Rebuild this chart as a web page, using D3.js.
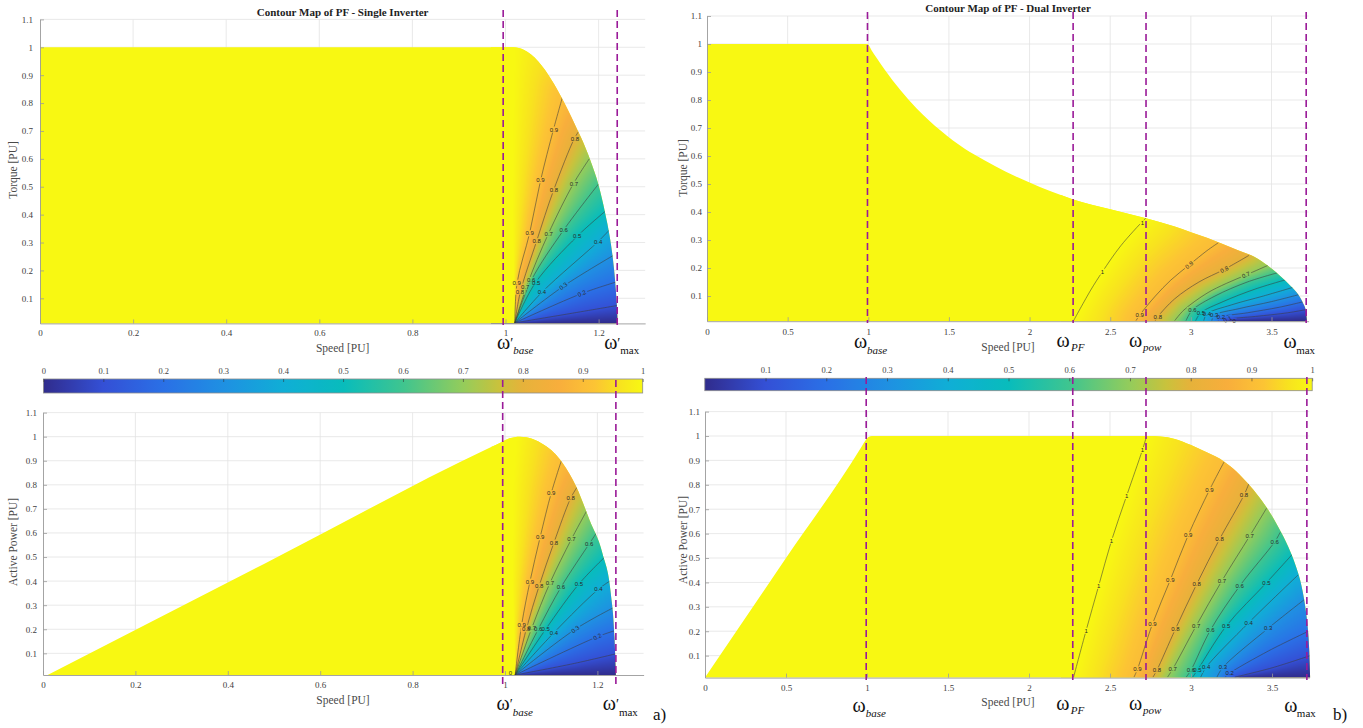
<!DOCTYPE html>
<html>
<head>
<meta charset="utf-8">
<title>Contour Map of PF</title>
<script src="https://cdn.jsdelivr.net/npm/d3@7/dist/d3.min.js"></script>
<style>
  html, body { margin: 0; padding: 0; background: #ffffff; }
  svg { display: block; }
</style>
</head>
<body>
<svg id="fig" width="1363" height="728"></svg>
<script>
// ---------------- tick values ----------------
const singleSpeedTicks = [0, 0.2, 0.4, 0.6, 0.8, 1, 1.2];
const dualSpeedTicks = [0, 0.5, 1, 1.5, 2, 2.5, 3, 3.5];
const puTicks = [0.1, 0.2, 0.3, 0.4, 0.5, 0.6, 0.7, 0.8, 0.9, 1, 1.1];
const colorbarTicksSingle = [0, 0.1, 0.2, 0.3, 0.4, 0.5, 0.6, 0.7, 0.8, 0.9, 1];
const colorbarTicksDual = [0.1, 0.2, 0.3, 0.4, 0.5, 0.6, 0.7, 0.8, 0.9, 1];

// ---------------- operating envelopes: [speed PU, value PU] ----------------
const singleTorqueEnvelope = [
  [0, 1.0], [0.5, 1.0], [1.017, 1.0], [1.04, 0.99], [1.07, 0.95], [1.1, 0.88], [1.121, 0.818],
  [1.15, 0.72], [1.168, 0.655], [1.182, 0.596], [1.2, 0.505], [1.214, 0.406], [1.224, 0.32],
  [1.231, 0.237], [1.237, 0.13], [1.24, 0.05], [1.241, 0.01]
];
const singlePowerEnvelope = [
  [0.01, 0.01], [0.5, 0.493], [0.97, 0.957], [0.99, 0.975], [1.01, 0.993], [1.032, 1.0],
  [1.06, 0.99], [1.085, 0.965], [1.105, 0.935], [1.125, 0.89], [1.154, 0.793], [1.183, 0.654],
  [1.211, 0.515], [1.229, 0.349], [1.237, 0.168], [1.24, 0.01]
];
const dualTorqueEnvelope = [
  [0, 1.0], [0.5, 1.0], [0.995, 1.0], [1.02, 0.978], [1.05, 0.952], [1.1, 0.91], [1.2, 0.835],
  [1.3, 0.77], [1.45, 0.69], [1.6, 0.625], [1.72, 0.585], [1.85, 0.545], [2.0, 0.505],
  [2.27, 0.445], [2.5, 0.41], [2.722, 0.378], [2.9, 0.348], [3.0, 0.328], [3.1, 0.308],
  [3.186, 0.288], [3.3, 0.262], [3.393, 0.24], [3.48, 0.207], [3.559, 0.169], [3.62, 0.135],
  [3.66, 0.11], [3.695, 0.075], [3.714, 0.045], [3.72, 0.01]
];
const dualPowerEnvelope = [
  [0, 0.01], [0.5, 0.5], [0.97, 0.96], [0.99, 0.982], [1.01, 0.996], [1.03, 1.0], [2.0, 1.0],
  [2.72, 1.0], [2.81, 0.998], [2.9, 0.988], [3.0, 0.963], [3.1, 0.932], [3.205, 0.895],
  [3.28, 0.855], [3.35, 0.806], [3.42, 0.75], [3.477, 0.697], [3.54, 0.625], [3.6, 0.546],
  [3.645, 0.47], [3.683, 0.382], [3.705, 0.3], [3.72, 0.218], [3.73, 0.12], [3.735, 0.01]
];

// ---------------- PF iso-lines (edge = limit of the field, not stroked) ----------------
const singleTorqueIsolines = [
  { level: 1, edge: true, pts: [[1.02, 0.012], [1.015, 0.4], [1.017, 0.8], [1.02, 1.0]] },
  { level: 0.9, pts: [[1.02, 0.012], [1.025, 0.156], [1.052, 0.335], [1.075, 0.52], [1.103, 0.705], [1.123, 0.825]] },
  { level: 0.8, pts: [[1.02, 0.012], [1.032, 0.123], [1.067, 0.306], [1.103, 0.486], [1.148, 0.673], [1.16, 0.705]] },
  { level: 0.7, pts: [[1.02, 0.012], [1.047, 0.15], [1.092, 0.331], [1.146, 0.511], [1.18, 0.6]] },
  { level: 0.6, pts: [[1.02, 0.012], [1.055, 0.163], [1.125, 0.345], [1.2, 0.51]] },
  { level: 0.5, pts: [[1.02, 0.012], [1.064, 0.155], [1.155, 0.324], [1.22, 0.42]] },
  { level: 0.4, pts: [[1.02, 0.012], [1.079, 0.123], [1.198, 0.302], [1.226, 0.35]] },
  { level: 0.3, pts: [[1.02, 0.012], [1.125, 0.144], [1.236, 0.258]] },
  { level: 0.2, pts: [[1.02, 0.012], [1.165, 0.118], [1.241, 0.16]] },
  { level: 0.1, pts: [[1.02, 0.012], [1.138, 0.045], [1.243, 0.075]] },
  { level: 0, edge: true, pts: [[1.02, 0.011], [1.25, 0.011]] }
];
const singlePowerIsolines = [
  { level: 1, edge: true, pts: [[1.022, 0.01], [1.016, 0.4], [1.018, 0.8], [1.025, 1.0]] },
  { level: 0.9, pts: [[1.022, 0.01], [1.036, 0.218], [1.054, 0.398], [1.076, 0.582], [1.1, 0.765], [1.122, 0.9]] },
  { level: 0.8, pts: [[1.022, 0.01], [1.046, 0.2], [1.074, 0.381], [1.106, 0.56], [1.142, 0.744], [1.156, 0.79]] },
  { level: 0.7, pts: [[1.022, 0.01], [1.058, 0.205], [1.097, 0.391], [1.144, 0.575], [1.178, 0.696]] },
  { level: 0.6, pts: [[1.022, 0.01], [1.072, 0.2], [1.121, 0.374], [1.182, 0.554], [1.198, 0.6]] },
  { level: 0.5, pts: [[1.022, 0.01], [1.088, 0.2], [1.16, 0.388], [1.216, 0.5]] },
  { level: 0.4, pts: [[1.022, 0.01], [1.106, 0.186], [1.202, 0.366], [1.23, 0.404]] },
  { level: 0.3, pts: [[1.022, 0.01], [1.152, 0.2], [1.238, 0.293]] },
  { level: 0.2, pts: [[1.022, 0.01], [1.2, 0.169], [1.241, 0.196]] },
  { level: 0.1, pts: [[1.022, 0.01], [1.15, 0.058], [1.242, 0.099]] },
  { level: 0, edge: true, pts: [[1.022, 0.009], [1.26, 0.009]] }
];
const dualTorqueIsolines = [
  { level: 1, pts: [[2.273, 0.012], [2.379, 0.121], [2.452, 0.187], [2.565, 0.279], [2.708, 0.371], [2.725, 0.38]] },
  { level: 0.9, pts: [[2.66, 0.012], [2.683, 0.032], [2.78, 0.1], [2.876, 0.157], [2.99, 0.211], [3.1, 0.262], [3.17, 0.29]] },
  { level: 0.8, pts: [[2.78, 0.012], [2.795, 0.026], [2.9, 0.09], [3.05, 0.15], [3.207, 0.195], [3.36, 0.245]] },
  { level: 0.7, pts: [[2.9, 0.012], [2.957, 0.05], [3.1, 0.11], [3.22, 0.145], [3.342, 0.175], [3.48, 0.21]] },
  { level: 0.6, pts: [[2.97, 0.012], [3.01, 0.05], [3.15, 0.1], [3.35, 0.15], [3.55, 0.185]] },
  { level: 0.5, pts: [[3.03, 0.012], [3.062, 0.04], [3.2, 0.08], [3.4, 0.125], [3.6, 0.16]] },
  { level: 0.4, pts: [[3.08, 0.012], [3.1, 0.036], [3.25, 0.068], [3.45, 0.1], [3.64, 0.132]] },
  { level: 0.3, pts: [[3.13, 0.012], [3.145, 0.031], [3.3, 0.055], [3.5, 0.08], [3.67, 0.105]] },
  { level: 0.2, pts: [[3.17, 0.012], [3.186, 0.024], [3.35, 0.04], [3.55, 0.06], [3.7, 0.08]] },
  { level: 0.1, pts: [[3.21, 0.012], [3.228, 0.017], [3.4, 0.027], [3.6, 0.04], [3.72, 0.052]] },
  { level: 0, edge: true, pts: [[3.25, 0.011], [3.74, 0.011]] }
];
const dualPowerIsolines = [
  { level: 1, pts: [[2.275, 0.012], [2.352, 0.202], [2.43, 0.386], [2.509, 0.571], [2.602, 0.754], [2.7, 0.943], [2.725, 0.998]] },
  { level: 0.9, pts: [[2.648, 0.012], [2.669, 0.044], [2.762, 0.23], [2.872, 0.41], [2.983, 0.594], [3.114, 0.779], [3.205, 0.895]] },
  { level: 0.8, pts: [[2.765, 0.012], [2.789, 0.04], [2.903, 0.208], [3.035, 0.393], [3.176, 0.577], [3.327, 0.758], [3.36, 0.81]] },
  { level: 0.7, pts: [[2.855, 0.012], [2.886, 0.044], [3.031, 0.221], [3.19, 0.406], [3.362, 0.59], [3.466, 0.704]] },
  { level: 0.6, pts: [[2.97, 0.012], [3.0, 0.041], [3.12, 0.205], [3.3, 0.385], [3.517, 0.567], [3.55, 0.605]] },
  { level: 0.5, pts: [[3.01, 0.012], [3.04, 0.041], [3.217, 0.221], [3.466, 0.399], [3.625, 0.515]] },
  { level: 0.4, pts: [[3.06, 0.012], [3.093, 0.052], [3.356, 0.235], [3.66, 0.43]] },
  { level: 0.3, pts: [[3.16, 0.012], [3.197, 0.052], [3.476, 0.212], [3.7, 0.33]] },
  { level: 0.2, pts: [[3.21, 0.012], [3.238, 0.028], [3.48, 0.12], [3.725, 0.2]] },
  { level: 0.1, pts: [[3.27, 0.012], [3.5, 0.05], [3.735, 0.1]] },
  { level: 0, edge: true, pts: [[3.3, 0.011], [3.75, 0.011]] }
];

// ---------------- iso-line labels: [level, speed, value] ----------------
const singleTorqueLabels = [
  [0.9, 1.104, 0.705], [0.8, 1.149, 0.672],
  [0.9, 1.075, 0.523], [0.8, 1.104, 0.487], [0.7, 1.147, 0.511],
  [0.9, 1.052, 0.333], [0.8, 1.067, 0.305], [0.7, 1.093, 0.33], [0.6, 1.125, 0.345], [0.5, 1.154, 0.325], [0.4, 1.199, 0.301],
  [0.9, 1.024, 0.156], [0.8, 1.031, 0.124], [0.7, 1.042, 0.142], [0.6, 1.055, 0.166], [0.5, 1.066, 0.157],
  [0.4, 1.078, 0.124], [0.3, 1.124, 0.144], [0.2, 1.164, 0.118]
];
const singlePowerLabels = [
  [0.9, 1.1, 0.765], [0.8, 1.142, 0.744],
  [0.9, 1.076, 0.582], [0.8, 1.106, 0.56], [0.7, 1.144, 0.575], [0.6, 1.182, 0.554],
  [0.9, 1.054, 0.398], [0.8, 1.074, 0.381], [0.7, 1.097, 0.391], [0.6, 1.121, 0.374], [0.5, 1.16, 0.388], [0.4, 1.202, 0.366],
  [0.9, 1.036, 0.218], [0.8, 1.046, 0.2], [0.7, 1.058, 0.205], [0.6, 1.072, 0.2], [0.5, 1.088, 0.2],
  [0.4, 1.106, 0.186], [0.3, 1.152, 0.2], [0.2, 1.2, 0.169], [0, 1.012, 0.02]
];
const dualTorqueLabels = [
  [1, 2.452, 0.187], [1, 2.7, 0.36], [0.9, 2.683, 0.032], [0.9, 2.99, 0.211], [0.8, 2.795, 0.026],
  [0.8, 3.207, 0.195], [0.7, 3.342, 0.175], [0.6, 3.01, 0.05], [0.5, 3.062, 0.04], [0.4, 3.1, 0.036],
  [0.3, 3.145, 0.031], [0.2, 3.186, 0.024], [0.1, 3.228, 0.017], [0, 3.269, 0.012]
];
const dualPowerLabels = [
  [1, 2.352, 0.202], [1, 2.43, 0.386], [1, 2.509, 0.571], [1, 2.602, 0.754], [1, 2.7, 0.943],
  [0.9, 2.669, 0.044], [0.9, 2.762, 0.23], [0.9, 2.872, 0.41], [0.9, 2.983, 0.594], [0.9, 3.114, 0.779],
  [0.8, 2.789, 0.04], [0.8, 2.903, 0.208], [0.8, 3.035, 0.393], [0.8, 3.176, 0.577], [0.8, 3.327, 0.758],
  [0.7, 2.886, 0.044], [0.7, 3.031, 0.221], [0.7, 3.19, 0.406], [0.7, 3.362, 0.59],
  [0.6, 3.0, 0.041], [0.6, 3.12, 0.205], [0.6, 3.3, 0.385], [0.6, 3.517, 0.567],
  [0.5, 3.04, 0.041], [0.5, 3.217, 0.221], [0.5, 3.466, 0.399],
  [0.4, 3.093, 0.052], [0.4, 3.356, 0.235], [0.3, 3.197, 0.052], [0.3, 3.476, 0.212], [0.2, 3.238, 0.028]
];

// ---------------- characteristic speeds ----------------
const singleSpeeds = [{ name: 'base', speed: 0.995 }, { name: 'max', speed: 1.24 }];
const dualSpeeds = [
  { name: 'base', speed: 0.995 }, { name: 'PF', speed: 2.27 },
  { name: 'pow', speed: 2.722 }, { name: 'max', speed: 3.715 }
];

// ---------------- styling ----------------
const SERIF = '"Liberation Serif", "Times New Roman", "DejaVu Serif", serif';
const SANS = '"Liberation Sans", Arial, sans-serif';
const PURPLE = '#9a1a98';
const pfStops = [0, 0.1, 0.2, 0.3, 0.4, 0.5, 0.6, 0.7, 0.76, 0.8, 0.86, 0.92, 0.96, 1];
const pfColors = ['#302c8c', '#3450d6', '#2a70e6', '#1f90e2', '#10aed6', '#08bcbc', '#3fc58f',
  '#94cc5b', '#c9c23c', '#e6b23a', '#f8ae3c', '#fcc434', '#f8e21f', '#f8f812'];
const pfColor = d3.scaleLinear().domain(pfStops).range(pfColors).interpolate(d3.interpolateRgb).clamp(true);
const lut = d3.range(1001).map(i => d3.rgb(pfColor(i / 1000)));
const fmt = v => String(+v.toFixed(2));

const svg = d3.select('#fig');
const defs = svg.append('defs');

// panel geometry
const panels = [
  { id: 'st', title: 'Contour Map of PF - Single Inverter', yTitle: 'Torque [PU]',
    speedMax: 1.3, xRange: [40, 645.15], yRange: [323.4, 19.4], speedTicks: singleSpeedTicks,
    envelope: singleTorqueEnvelope, isolines: singleTorqueIsolines, labels: singleTorqueLabels,
    fieldFrom: 0.97, fieldTo: 1.26, yPad: 7, xPad: 5.8,
    titlePos: [342.6, 15.5], xTitlePos: [342.6, 352], yTitlePos: [13, 170] },
  { id: 'dt', title: 'Contour Map of PF - Dual Inverter', yTitle: 'Torque [PU]',
    speedMax: 3.73, xRange: [707, 1308.6], yRange: [321.2, 16], speedTicks: dualSpeedTicks,
    envelope: dualTorqueEnvelope, isolines: dualTorqueIsolines, labels: dualTorqueLabels,
    fieldFrom: 2.2, fieldTo: 3.73, yPad: 5, xPad: 7.4,
    titlePos: [1008, 12], xTitlePos: [1008, 351], yTitlePos: [683, 168] },
  { id: 'sp', title: null, yTitle: 'Active Power [PU]',
    speedMax: 1.3, xRange: [43, 643.6], yRange: [675, 412.6], speedTicks: singleSpeedTicks,
    envelope: singlePowerEnvelope, isolines: singlePowerIsolines, labels: singlePowerLabels,
    fieldFrom: 0.97, fieldTo: 1.26, yPad: 6, xPad: 6.6,
    xTitlePos: [343, 704], yTitlePos: [13, 542] },
  { id: 'dp', title: null, yTitle: 'Active Power [PU]',
    speedMax: 3.73, xRange: [705, 1309.3], yRange: [677.6, 411.6], speedTicks: dualSpeedTicks,
    envelope: dualPowerEnvelope, isolines: dualPowerIsolines, labels: dualPowerLabels,
    fieldFrom: 2.2, fieldTo: 3.74, yPad: 5, xPad: 7,
    xTitlePos: [1008, 706], yTitlePos: [683, 540] }
];

function envelopePath(env, xs, ys) {
  const line = d3.line().x(d => xs(d[0])).y(d => ys(d[1])).curve(d3.curveMonotoneX);
  const a = env[0], b = env[env.length - 1];
  return line(env) + `L${xs(b[0])},${ys(0.01)}L${xs(a[0])},${ys(0.01)}Z`;
}

// PF shading: every pixel takes its value between the two iso-lines that enclose it,
// weighted by the distance to each.
function pfField(xs, ys, isolines, sFrom, sTo) {
  const x0 = Math.floor(xs(sFrom)), x1 = Math.ceil(xs(sTo));
  const y0 = Math.floor(ys(1.1)), y1 = Math.ceil(ys(0.01));
  const w = x1 - x0, h = y1 - y0;
  const levels = [...new Set(isolines.map(d => d.level))].sort((a, b) => a - b);
  const segs = levels.map(L => {
    const out = [];
    isolines.filter(d => d.level === L).forEach(d => {
      const p = d.pts.map(q => [xs(q[0]), ys(q[1])]);
      for (let i = 0; i < p.length - 1; i++) out.push([p[i][0], p[i][1], p[i + 1][0], p[i + 1][1]]);
    });
    return out;
  });
  const n = levels.length;
  const dist = new Float64Array(n), qx = new Float64Array(n), qy = new Float64Array(n);
  const canvas = document.createElement('canvas');
  canvas.width = w; canvas.height = h;
  const ctx = canvas.getContext('2d');
  const img = ctx.createImageData(w, h);
  for (let j = 0; j < h; j++) {
    for (let i = 0; i < w; i++) {
      const x = x0 + i + 0.5, y = y0 + j + 0.5;
      let best = 0, bd = Infinity;
      for (let k = 0; k < n; k++) {
        let md = Infinity, mx = 0, my = 0;
        const sk = segs[k];
        for (let m = 0; m < sk.length; m++) {
          const s = sk[m];
          const dx = s[2] - s[0], dy = s[3] - s[1];
          let t = ((x - s[0]) * dx + (y - s[1]) * dy) / (dx * dx + dy * dy);
          t = t < 0 ? 0 : t > 1 ? 1 : t;
          const cx = s[0] + t * dx, cy = s[1] + t * dy;
          const d = (x - cx) * (x - cx) + (y - cy) * (y - cy);
          if (d < md) { md = d; mx = cx; my = cy; }
        }
        dist[k] = Math.sqrt(md); qx[k] = mx; qy[k] = my;
        if (dist[k] < bd) { bd = dist[k]; best = k; }
      }
      let v = levels[best];
      if (bd > 1e-6) {
        const ux = qx[best] - x, uy = qy[best] - y;
        let nb = -1, nd = Infinity;
        for (const k of [best - 1, best + 1]) {
          if (k < 0 || k >= n) continue;
          const dot = ux * (qx[k] - x) + uy * (qy[k] - y);
          if (dot < 0 && dist[k] < nd) { nd = dist[k]; nb = k; }
        }
        if (nb >= 0) v = levels[best] + (levels[nb] - levels[best]) * bd / (bd + nd);
      }
      const c = lut[Math.max(0, Math.min(1000, Math.round(v * 1000)))];
      const o = (j * w + i) * 4;
      img.data[o] = c.r; img.data[o + 1] = c.g; img.data[o + 2] = c.b; img.data[o + 3] = 255;
    }
  }
  ctx.putImageData(img, 0, 0);
  return { url: canvas.toDataURL(), x: x0, y: y0, w, h };
}

function labelAngle(level, x, y, isolines, xs, ys) {
  let best = Infinity, ang = 0;
  isolines.filter(d => d.level === level).forEach(d => {
    const p = d.pts.map(q => [xs(q[0]), ys(q[1])]);
    for (let i = 0; i < p.length - 1; i++) {
      const dx = p[i + 1][0] - p[i][0], dy = p[i + 1][1] - p[i][1];
      let t = ((x - p[i][0]) * dx + (y - p[i][1]) * dy) / (dx * dx + dy * dy);
      t = Math.max(0, Math.min(1, t));
      const cx = p[i][0] + t * dx, cy = p[i][1] + t * dy;
      const dd = (x - cx) ** 2 + (y - cy) ** 2;
      if (dd < best) { best = dd; ang = Math.atan2(dy, dx) * 180 / Math.PI; }
    }
  });
  if (ang > 90) ang -= 180;
  if (ang < -90) ang += 180;
  return Math.abs(ang) > 40 ? 0 : ang;
}

function drawPanel(p) {
  const xs = d3.scaleLinear().domain([0, p.speedMax]).range(p.xRange);
  const ys = d3.scaleLinear().domain([0.01, 1.1]).range(p.yRange);
  const g = svg.append('g');

  // grid
  g.append('g').selectAll('line').data(p.speedTicks.filter(d => d > 0)).join('line')
    .attr('x1', d => xs(d)).attr('x2', d => xs(d)).attr('y1', ys(0.01)).attr('y2', ys(1.1))
    .attr('stroke', '#e3e3e3').attr('stroke-width', 0.8);
  g.append('g').selectAll('line').data(puTicks).join('line')
    .attr('x1', xs(0)).attr('x2', xs(p.speedMax)).attr('y1', d => ys(d)).attr('y2', d => ys(d))
    .attr('stroke', '#e3e3e3').attr('stroke-width', 0.8);

  // operating region
  const clipId = 'clip-' + p.id;
  const env = envelopePath(p.envelope, xs, ys);
  defs.append('clipPath').attr('id', clipId).append('path').attr('d', env);
  g.append('path').attr('d', env).attr('fill', pfColor(1));

  const f = pfField(xs, ys, p.isolines, p.fieldFrom, p.fieldTo);
  g.append('image').attr('href', f.url).attr('x', f.x).attr('y', f.y)
    .attr('width', f.w).attr('height', f.h).attr('preserveAspectRatio', 'none')
    .attr('clip-path', `url(#${clipId})`);

  // iso-lines with gaps under the labels
  const labelInfo = p.labels.map(([level, s, v]) => {
    const x = xs(s), y = ys(v);
    const txt = fmt(level);
    return { x, y, txt, ang: labelAngle(level, x, y, p.isolines, xs, ys), w: txt.length * 3.2 + 1.6 };
  });
  const maskId = 'mask-' + p.id;
  const mask = defs.append('mask').attr('id', maskId).attr('maskUnits', 'userSpaceOnUse')
    .attr('x', 0).attr('y', 0).attr('width', 1363).attr('height', 728);
  mask.append('rect').attr('width', 1363).attr('height', 728).attr('fill', '#fff');
  mask.selectAll('rect.gap').data(labelInfo).join('rect').attr('class', 'gap')
    .attr('x', d => -d.w / 2).attr('y', -3).attr('width', d => d.w).attr('height', 6)
    .attr('transform', d => `translate(${d.x},${d.y}) rotate(${d.ang})`).attr('fill', '#000');

  const line = d3.line().x(d => xs(d[0])).y(d => ys(d[1])).curve(d3.curveCatmullRom.alpha(0.5));
  g.append('g').attr('clip-path', `url(#${clipId})`).append('g').attr('mask', `url(#${maskId})`)
    .selectAll('path').data(p.isolines.filter(d => !d.edge)).join('path')
    .attr('d', d => line(d.pts)).attr('fill', 'none')
    .attr('stroke', '#3b3b3b').attr('stroke-opacity', 0.85).attr('stroke-width', 0.65);

  g.append('g').selectAll('text').data(labelInfo).join('text')
    .attr('transform', d => `translate(${d.x},${d.y}) rotate(${d.ang})`)
    .attr('text-anchor', 'middle').attr('dy', '0.35em')
    .attr('font-family', SANS).attr('font-size', 6).attr('fill', '#2a2a2a')
    .text(d => d.txt);

  // axes
  const ax = g.append('g').attr('transform', `translate(0,${ys(0.01)})`)
    .call(d3.axisBottom(xs).tickValues(p.speedTicks).tickSize(-4).tickSizeOuter(0)
      .tickPadding(p.xPad).tickFormat(fmt));
  const ay = g.append('g').attr('transform', `translate(${xs(0)},0)`)
    .call(d3.axisLeft(ys).tickValues(puTicks).tickSize(-4).tickSizeOuter(0)
      .tickPadding(p.yPad).tickFormat(fmt));
  [ax, ay].forEach(a => {
    a.select('.domain').attr('stroke', '#9a9a9a').attr('stroke-width', 0.9);
    a.selectAll('.tick line').attr('stroke', '#9a9a9a').attr('stroke-width', 0.8);
    a.selectAll('.tick text').attr('font-family', SERIF).attr('font-size', 9).attr('fill', '#404040');
  });

  if (p.title) {
    g.append('text').attr('x', p.titlePos[0]).attr('y', p.titlePos[1]).attr('text-anchor', 'middle')
      .attr('font-family', SERIF).attr('font-weight', 'bold').attr('font-size', 11)
      .attr('fill', '#1e1e1e').text(p.title);
  }
  g.append('text').attr('x', p.xTitlePos[0]).attr('y', p.xTitlePos[1]).attr('text-anchor', 'middle')
    .attr('font-family', SERIF).attr('font-size', 11.5).attr('fill', '#4a4a4a').text('Speed [PU]');
  g.append('text').attr('transform', `translate(${p.yTitlePos[0]},${p.yTitlePos[1]}) rotate(-90)`)
    .attr('text-anchor', 'middle').attr('dy', '0.35em')
    .attr('font-family', SERIF).attr('font-size', 11.5).attr('fill', '#4a4a4a').text(p.yTitle);

  return xs;
}

function drawColorbar(cb) {
  const xs = d3.scaleLinear().domain([0, 1]).range(cb.xRange);
  const id = 'grad-' + cb.id;
  const grad = defs.append('linearGradient').attr('id', id).attr('x1', '0%').attr('x2', '100%');
  d3.range(0, 1.0001, 0.02).forEach(v =>
    grad.append('stop').attr('offset', (v * 100).toFixed(1) + '%').attr('stop-color', pfColor(v)));
  svg.append('rect').attr('x', cb.xRange[0]).attr('y', cb.y)
    .attr('width', cb.xRange[1] - cb.xRange[0]).attr('height', cb.h)
    .attr('fill', `url(#${id})`).attr('stroke', '#8c8c8c').attr('stroke-width', 0.8);
  const a = svg.append('g').attr('transform', `translate(0,${cb.y})`)
    .call(d3.axisTop(xs).tickValues(cb.ticks).tickSize(-3).tickSizeOuter(0).tickPadding(5).tickFormat(fmt));
  a.select('.domain').remove();
  a.selectAll('.tick line').attr('stroke', '#333').attr('stroke-opacity', 0.55);
  a.selectAll('.tick text').attr('font-family', SERIF).attr('font-size', 8.5).attr('fill', '#454545');
}

function drawSpeedMarks(xs, speeds, mk) {
  speeds.forEach((m, i) => {
    const x = xs(m.speed), o = mk.offsets[i];
    svg.append('line').attr('x1', x).attr('x2', x).attr('y1', mk.y1).attr('y2', mk.y2)
      .attr('stroke', PURPLE).attr('stroke-width', 1.6).attr('stroke-dasharray', '7,4');
    svg.append('text').attr('x', x + o.w).attr('y', o.wy).attr('text-anchor', 'middle')
      .attr('font-family', SERIF).attr('font-size', 20).attr('fill', '#111').text('ω');
    if (mk.primed) {
      svg.append('text').attr('x', x + o.w + 6.5).attr('y', o.wy - 1.5)
        .attr('font-family', SERIF).attr('font-size', 14).attr('fill', '#111').text('′');
    }
    svg.append('text').attr('x', x + o.s).attr('y', o.sy)
      .attr('font-family', SERIF).attr('font-size', 11)
      .attr('font-style', m.name === 'max' ? 'normal' : 'italic').attr('fill', '#111').text(m.name);
  });
}

const scales = panels.map(drawPanel);

drawColorbar({ id: 'a', xRange: [43.4, 642.7], y: 379, h: 14, ticks: colorbarTicksSingle });
drawColorbar({ id: 'b', xRange: [704.8, 1312.2], y: 378.3, h: 12.4, ticks: colorbarTicksDual });

drawSpeedMarks(scales[0], singleSpeeds, { y1: 10, y2: 327, primed: true,
  offsets: [{ w: 0.5, wy: 349, s: 10, sy: 354 }, { w: -6.5, wy: 349, s: 3, sy: 354 }] });
drawSpeedMarks(scales[2], singleSpeeds, { y1: 380, y2: 686, primed: true,
  offsets: [{ w: 0.5, wy: 710, s: 10, sy: 715.5 }, { w: -6.5, wy: 710, s: 3, sy: 715.5 }] });
drawSpeedMarks(scales[1], dualSpeeds, { y1: 12, y2: 323, primed: false,
  offsets: [{ w: -7, wy: 348, s: -0.5, sy: 353.5 }, { w: -10, wy: 347, s: -2, sy: 350.5 },
    { w: -10.5, wy: 347, s: -3, sy: 350.5 }, { w: -16, wy: 348, s: -10, sy: 353.5 }] });
drawSpeedMarks(scales[3], dualSpeeds, { y1: 377, y2: 680, primed: false,
  offsets: [{ w: -7, wy: 712, s: -0.5, sy: 716.5 }, { w: -10, wy: 710, s: -2, sy: 713.5 },
    { w: -10.5, wy: 710, s: -3, sy: 713.5 }, { w: -16, wy: 712, s: -10, sy: 716.5 }] });

svg.append('text').attr('x', 653).attr('y', 720).attr('font-family', SERIF).attr('font-size', 17)
  .attr('fill', '#111').text('a)');
svg.append('text').attr('x', 1333).attr('y', 720).attr('font-family', SERIF).attr('font-size', 17)
  .attr('fill', '#111').text('b)');
</script>
</body>
</html>
